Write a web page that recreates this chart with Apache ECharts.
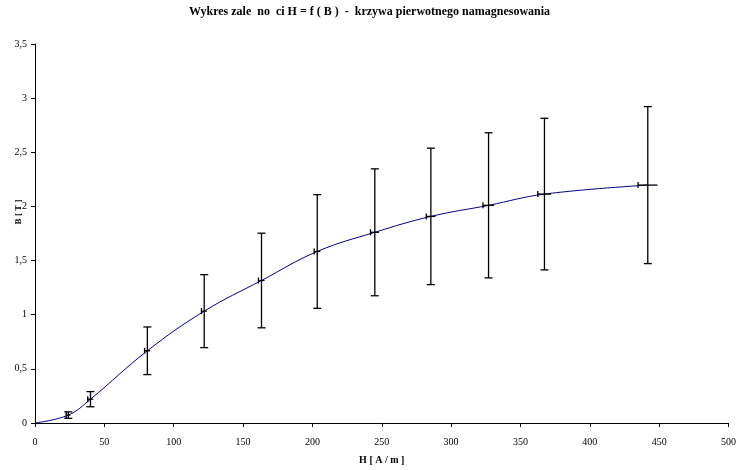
<!DOCTYPE html>
<html>
<head>
<meta charset="utf-8">
<script src="https://cdn.jsdelivr.net/npm/echarts@6/dist/echarts.min.js"></script>
<style>html,body{margin:0;padding:0;background:#fff;}#c{width:739px;height:470px;}</style>
</head>
<body>
<div id="c"></div>
<script>
const H = [24, 40, 81, 122, 163.3, 203.5, 245, 285.4, 327, 367.3, 441.8];
const B = [0.073, 0.22, 0.667, 1.033, 1.316, 1.584, 1.761, 1.908, 2.01, 2.114, 2.197];
const BErr = [0.03, 0.07, 0.22, 0.337, 0.437, 0.525, 0.586, 0.63, 0.67, 0.70, 0.725];
const HErr = [1.5, 2, 2, 2, 2.2, 2.2, 3.1, 3.3, 4, 4.8, 7];
const xTicks = [0, 50, 100, 150, 200, 250, 300, 350, 400, 450, 500];
const yTicks = [0, 0.5, 1, 1.5, 2, 2.5, 3, 3.5];
const titleText = 'Wykres zale  no  ci H = f ( B )  -  krzywa pierwotnego namagnesowania';

const lineData = [[0, 0]].concat(H.map((h, i) => [h, B[i]]));
const errData = H.map((h, i) => [h, B[i], BErr[i], HErr[i]]);

const chart = echarts.init(document.getElementById('c'));
const font = 'Liberation Serif, Times New Roman, serif';
chart.setOption({
  animation: false,
  backgroundColor: '#fff',
  title: {
    text: titleText, left: 'center', top: 1,
    textStyle: { fontFamily: font, fontSize: 12, fontWeight: 'bold', color: '#000' }
  },
  grid: { left: 35, right: 8, top: 44, bottom: 43 },
  xAxis: {
    type: 'value', min: xTicks[0], max: xTicks[xTicks.length - 1], interval: 50,
    name: 'H [ A / m ]', nameLocation: 'middle', nameGap: 32,
    nameTextStyle: { fontFamily: font, fontSize: 10, fontWeight: 'bold', color: '#000' },
    axisLine: { lineStyle: { color: '#000', width: 1 } },
    axisTick: { lineStyle: { color: '#000' }, length: 4 },
    axisLabel: { fontFamily: font, fontSize: 10, color: '#000', margin: 14 },
    splitLine: { show: false }
  },
  yAxis: {
    type: 'value', min: yTicks[0], max: yTicks[yTicks.length - 1], interval: 0.5,
    axisLine: { show: true, lineStyle: { color: '#000', width: 1 } },
    axisTick: { show: true, lineStyle: { color: '#000' }, length: 4 },
    axisLabel: { fontFamily: font, fontSize: 10, color: '#000', margin: 8,
      formatter: v => String(v).replace('.', ',') },
    splitLine: { show: false }
  },
  graphic: [{
    type: 'text', x: 19, y: 212, rotation: Math.PI / 2,
    style: { text: 'B [ T ]', font: 'bold 9px ' + font, fill: '#000', textAlign: 'center', textVerticalAlign: 'middle' }
  }],
  series: [
    {
      type: 'line', data: lineData, smooth: 0.4, symbol: 'none',
      lineStyle: { color: '#000080', width: 1 }, z: 2
    },
    {
      type: 'custom', data: errData, z: 3,
      renderItem: function (params, api) {
        const x = api.value(0), y = api.value(1), e = api.value(2), he = api.value(3);
        const top = api.coord([x, y + e]);
        const bot = api.coord([x, y - e]);
        const left = api.coord([x - he, y]);
        const right = api.coord([x + he, y]);
        const cw = 4;
        const st = { stroke: '#000', lineWidth: 1.3 };
        return {
          type: 'group',
          children: [
            { type: 'line', shape: { x1: top[0], y1: top[1], x2: bot[0], y2: bot[1] }, style: st },
            { type: 'line', shape: { x1: top[0] - cw, y1: top[1], x2: top[0] + cw, y2: top[1] }, style: st },
            { type: 'line', shape: { x1: bot[0] - cw, y1: bot[1], x2: bot[0] + cw, y2: bot[1] }, style: st },
            { type: 'line', shape: { x1: left[0], y1: left[1], x2: right[0], y2: right[1] }, style: st },
            { type: 'line', shape: { x1: left[0], y1: left[1] - 3, x2: left[0], y2: left[1] + 3 }, style: st }
          ]
        };
      }
    }
  ]
});
</script>
</body>
</html>
